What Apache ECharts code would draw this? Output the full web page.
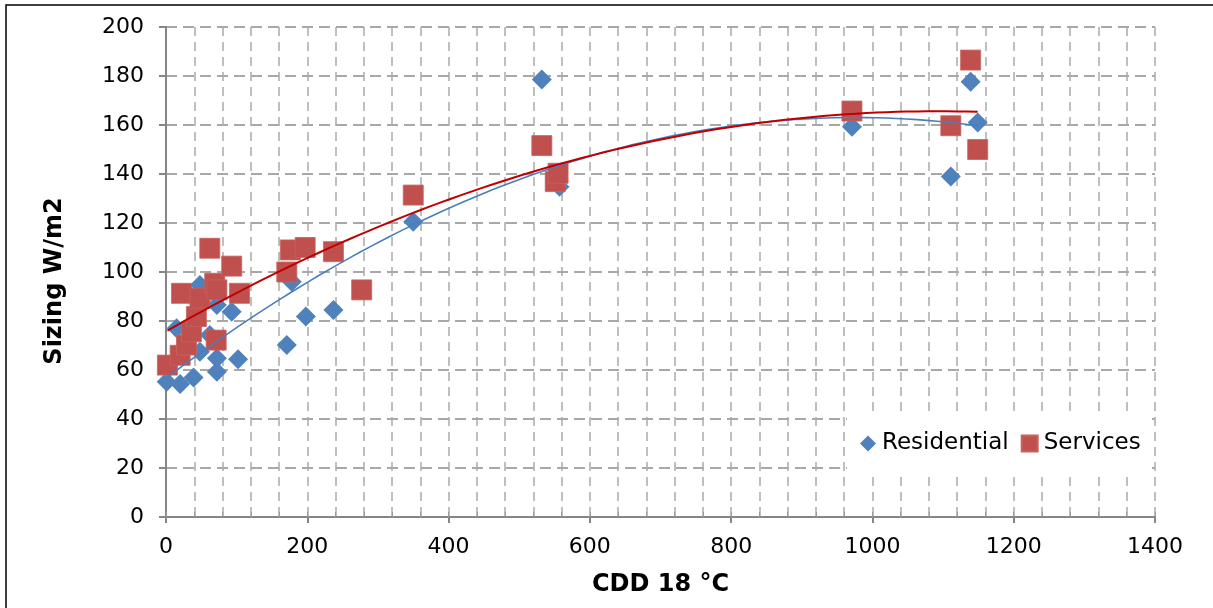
<!DOCTYPE html>
<html>
<head>
<meta charset="utf-8">
<script src="https://cdn.jsdelivr.net/npm/echarts@6/dist/echarts.min.js"></script>
<style>
  html, body { margin: 0; padding: 0; background: #fff; }
  #chart { width: 1213px; height: 608px; }
</style>
</head>
<body>
<div id="chart"></div>
<script>
// values
var resX = [1, 15, 20, 39, 48, 48, 62, 72, 72, 72, 93, 102, 171, 178, 198, 237, 350, 532, 557, 971, 1111, 1139, 1149];
var resY = [55.2, 77, 54.3, 56.9, 94.7, 67.5, 74.3, 59.3, 64.8, 86.5, 83.8, 64.4, 70.2, 96, 81.8, 84.5, 120.5, 178.6, 134.8, 159.3, 139, 177.7, 161];

var serX = [2, 20, 22, 29, 36, 43, 48, 62, 69, 71, 72, 93, 104, 171, 176, 197, 237, 277, 350, 532, 551, 555, 971, 1111, 1139, 1149];
var serY = [62, 66, 91.3, 70.2, 75.6, 81.8, 89.3, 109.7, 95.4, 72.2, 92.7, 102.4, 91.3, 100, 109, 110, 108.3, 92.7, 131.4, 151.6, 136.9, 140.3, 165.7, 159.7, 186.5, 150];

var seriesNames = ['Residential', 'Services'];
var xTicks = [0, 1400, 200];
var yTicks = [0, 200, 20];

var FONT = 'DejaVu Sans, Verdana, sans-serif';

function zip(xs, ys) {
    var out = [];
    for (var i = 0; i < xs.length; i++) out.push([xs[i], ys[i]]);
    return out;
}

// 2nd order least squares, like the excel trendline
function polyfit2(xs, ys) {
    var s = [0, 0, 0, 0, 0], t = [0, 0, 0];
    for (var i = 0; i < xs.length; i++) {
        var p = 1;
        for (var k = 0; k < 5; k++) { s[k] += p; if (k < 3) t[k] += p * ys[i]; p *= xs[i]; }
    }
    var m = [[s[0], s[1], s[2], t[0]], [s[1], s[2], s[3], t[1]], [s[2], s[3], s[4], t[2]]];
    for (var c = 0; c < 3; c++) {
        for (var r = c + 1; r < 3; r++) {
            var f = m[r][c] / m[c][c];
            for (var j = c; j < 4; j++) m[r][j] -= f * m[c][j];
        }
    }
    var a = [0, 0, 0];
    for (var r2 = 2; r2 >= 0; r2--) {
        var v = m[r2][3];
        for (var j2 = r2 + 1; j2 < 3; j2++) v -= m[r2][j2] * a[j2];
        a[r2] = v / m[r2][r2];
    }
    return a;
}

function trend(xs, ys) {
    var a = polyfit2(xs, ys);
    var lo = Math.min.apply(null, xs), hi = Math.max.apply(null, xs);
    var pts = [], n = 80;
    for (var i = 0; i <= n; i++) {
        var x = lo + (hi - lo) * i / n;
        pts.push([x, a[0] + a[1] * x + a[2] * x * x]);
    }
    return pts;
}

var chart = echarts.init(document.getElementById('chart'));

var option = {
    animation: false,
    backgroundColor: '#fff',
    textStyle: { fontFamily: FONT },
    graphic: [{
        type: 'rect',
        shape: { x: 6, y: 5, width: 1400, height: 800 },
        style: { fill: 'none', stroke: '#000', lineWidth: 1.5 },
        silent: true
    }, {
        type: 'text',
        x: 55, y: 281,
        rotation: Math.PI / 2,
        style: {
            text: 'Sizing W/m2',
            fontSize: 24, fontWeight: 'bold', fontFamily: FONT, fill: '#000',
            align: 'center', verticalAlign: 'middle'
        },
        silent: true
    }],
    grid: { left: 166, right: 58, top: 27, bottom: 91 },
    legend: {
        data: [
            { name: seriesNames[0], icon: 'diamond' },
            { name: seriesNames[1], icon: 'rect' }
        ],
        left: 847,
        top: 413,
        padding: [19, 8, 19, 13],
        itemGap: 12,
        itemWidth: 16,
        itemHeight: 16,
        backgroundColor: '#fff',
        textStyle: { fontSize: 23, color: '#000', fontFamily: FONT, padding: [0, 0, 0, 1] },
        z: 10
    },
    xAxis: [{
        type: 'value',
        min: xTicks[0], max: xTicks[1], interval: xTicks[2],
        name: 'CDD 18 °C',
        nameLocation: 'middle',
        nameGap: 56,
        nameTextStyle: { fontSize: 24, fontWeight: 'bold', color: '#000', fontFamily: FONT },
        axisLine: { show: true, lineStyle: { color: '#868686', width: 2 } },
        axisTick: { show: true, length: 6, lineStyle: { color: '#868686', width: 2 } },
        axisLabel: { fontSize: 22, color: '#000', margin: 19, fontFamily: FONT,
            formatter: function (v) { return String(v); } },
        splitLine: { show: false }
    }, {
        type: 'value',
        position: 'bottom',
        min: xTicks[0], max: xTicks[1], interval: 40,
        axisLine: { show: false },
        axisTick: { show: true, inside: true, length: 5, lineStyle: { color: '#9a9a9a', width: 1 } },
        axisLabel: { show: false },
        splitLine: { show: true, lineStyle: { color: '#ababab', width: 1.5, type: [9, 6] } }
    }],
    yAxis: {
        type: 'value',
        min: yTicks[0], max: yTicks[1], interval: yTicks[2],
        axisLine: { show: true, lineStyle: { color: '#868686', width: 2 } },
        axisTick: { show: true, length: 7, lineStyle: { color: '#868686', width: 2 } },
        axisLabel: { fontSize: 22, color: '#000', margin: 22, fontFamily: FONT },
        splitLine: { show: true, lineStyle: { color: '#8c8c8c', width: 1.5, type: [11, 6] } }
    },
    series: [{
        name: seriesNames[0],
        type: 'scatter',
        symbol: 'diamond',
        symbolSize: 20,
        itemStyle: { color: '#4F81BD', opacity: 1 },
        data: zip(resX, resY),
        z: 2
    }, {
        name: seriesNames[1],
        type: 'scatter',
        symbol: 'rect',
        symbolSize: 20,
        itemStyle: { color: '#C0504D', borderColor: '#C8625F', borderWidth: 0.8, opacity: 1 },
        data: zip(serX, serY),
        z: 3
    }, {
        name: 'trendRes',
        type: 'line',
        showSymbol: false,
        silent: true,
        lineStyle: { color: '#4A7EBB', width: 1.6 },
        data: trend(resX, resY),
        z: 4
    }, {
        name: 'trendSer',
        type: 'line',
        showSymbol: false,
        silent: true,
        lineStyle: { color: '#C00000', width: 2 },
        data: trend(serX, serY),
        z: 5
    }]
};

chart.setOption(option);
</script>
</body>
</html>
